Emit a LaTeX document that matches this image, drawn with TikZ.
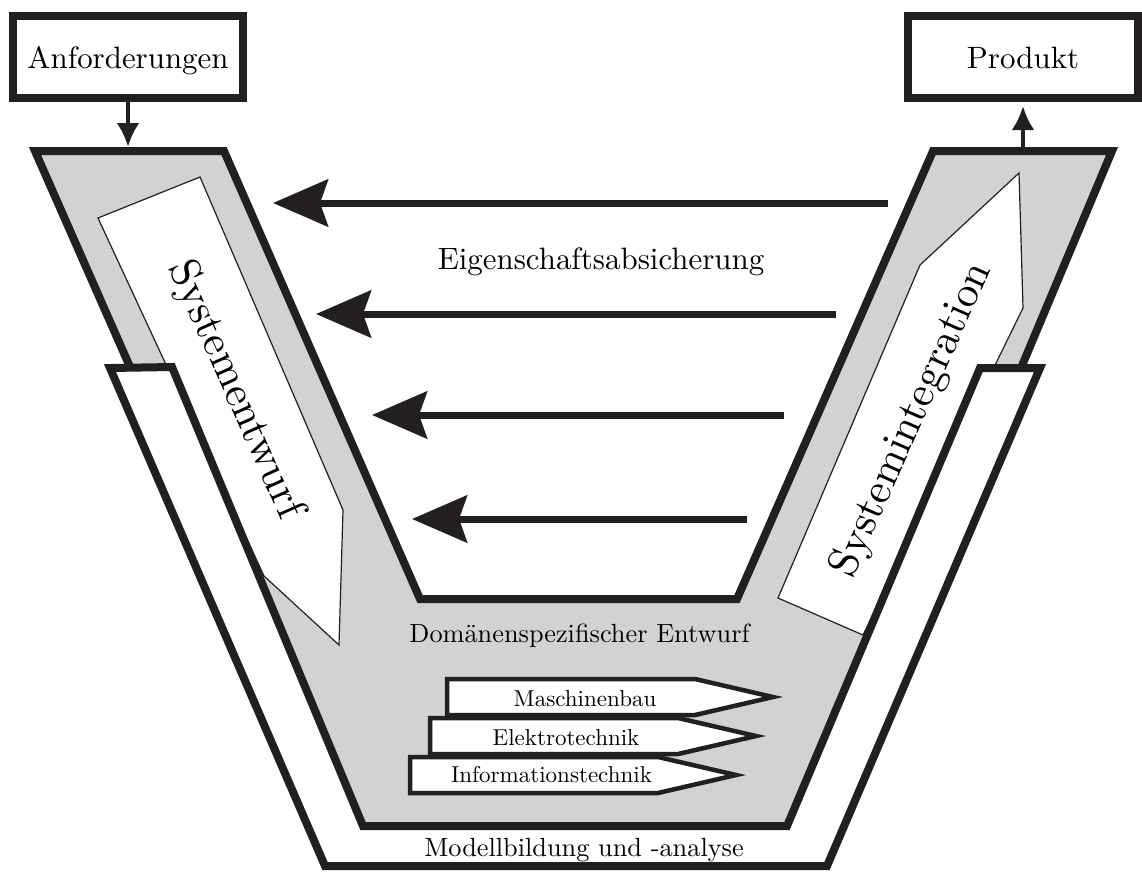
\documentclass[tikz,border=0pt]{standalone}
\usepackage{fontspec}
\setmainfont{lmroman10-regular.otf}
\usetikzlibrary{arrows.meta}
\definecolor{ink}{RGB}{35,31,32}
\definecolor{vgray}{RGB}{209,210,212}
\tikzset{
  heavy/.style={draw=ink, line width=8pt},
  phase/.style={fill=white, draw=ink, line width=1.2pt},
  domainbox/.style={fill=white, draw=ink, line width=4.5pt},
  endbox/.style={heavy, fill=white, minimum width=230pt, minimum height=82pt,
    inner sep=0pt, text height=24pt, text depth=2pt, font=\fontsize{30.9}{36}\selectfont},
  flowarrow/.style={draw=ink, line width=4.5pt, -{Latex[length=24pt,width=23pt]}},
  checkarrow/.style={draw=ink, line width=7pt, -{Stealth[length=55pt,width=47pt,inset=8pt]}},
  maintext/.style={font=\fontsize{30.9}{36}\selectfont, inner sep=0pt},
  midtext/.style={font=\fontsize{26.3}{30}\selectfont, inner sep=0pt},
  smalltext/.style={font=\fontsize{23}{27}\selectfont, inner sep=0pt},
  bigtext/.style={font=\fontsize{43}{50}\selectfont, inner sep=0pt}
}
\begin{document}
\begin{tikzpicture}[x=1pt,y=-1pt]
\useasboundingbox (0,0) rectangle (1142,871);

% grey V core
\path[heavy, fill=vgray] (35,151) -- (224,151) -- (420,599) -- (737,599) -- (933,151)
  -- (1112,151) -- (829,826) -- (332,826) -- cycle;

% phase arrows inside the arms
\path[phase] (98,218) -- (200,177) -- (343,510) -- (339,645) -- (264,576) -- cycle;
\path[phase] (778,598) -- (863,635) -- (1023,308) -- (1019,173) -- (920,265) -- cycle;

% outer modelling band
\path[heavy, fill=white] (110,368) -- (172,367) -- (363,826) -- (787,826) -- (980,368)
  -- (1040,368) -- (827,866) -- (325,866) -- cycle;

% labels of the arms
\node[bigtext, rotate=-66] (entwurf) at (235,390) {Systementwurf};
\node[bigtext, rotate=66] (integration) at (912,420) {Systemintegration};

% input and output
\node[endbox] (anf) at (128,57) {Anforderungen};
\node[endbox] (prod) at (1023,57) {Produkt};
\coordinate (vin) at (128,147);
\coordinate (vout) at (1023,147);
\draw[flowarrow] (anf) -- (vin);
\draw[flowarrow, shorten >=4pt] (vout) -- (prod);

% property assurance arrows
\coordinate (a1s) at (888,203); \coordinate (a1t) at (273,203);
\coordinate (a2s) at (836,314); \coordinate (a2t) at (316,314);
\coordinate (a3s) at (784,415); \coordinate (a3t) at (372,415);
\coordinate (a4s) at (747,519); \coordinate (a4t) at (412,519);
\draw[checkarrow] (a1s) -- (a1t);
\draw[checkarrow] (a2s) -- (a2t);
\draw[checkarrow] (a3s) -- (a3t);
\draw[checkarrow] (a4s) -- (a4t);
\node[maintext, anchor=base] (eigen) at (601,269) {Eigenschaftsabsicherung};

% domain specific design
\node[midtext, anchor=base] (dom) at (579.5,642) {Domänenspezifischer Entwurf};
\path[domainbox] (447,679) -- (695,679) -- (773,697) -- (695,715) -- (447,715) -- cycle;
\node[smalltext, anchor=base] (masch) at (585,706.7) {Maschinenbau};
\path[domainbox] (430,718) -- (678,718) -- (756,736) -- (678,754) -- (430,754) -- cycle;
\node[smalltext, anchor=base] (elek) at (566,745) {Elektrotechnik};
\path[domainbox] (410,757) -- (658,757) -- (736,775) -- (658,793) -- (410,793) -- cycle;
\node[smalltext, anchor=base] (info) at (551.5,782.7) {Informationstechnik};

\node[midtext, anchor=base] (modell) at (584,856.7) {Modellbildung und -analyse};
\end{tikzpicture}
\end{document}
